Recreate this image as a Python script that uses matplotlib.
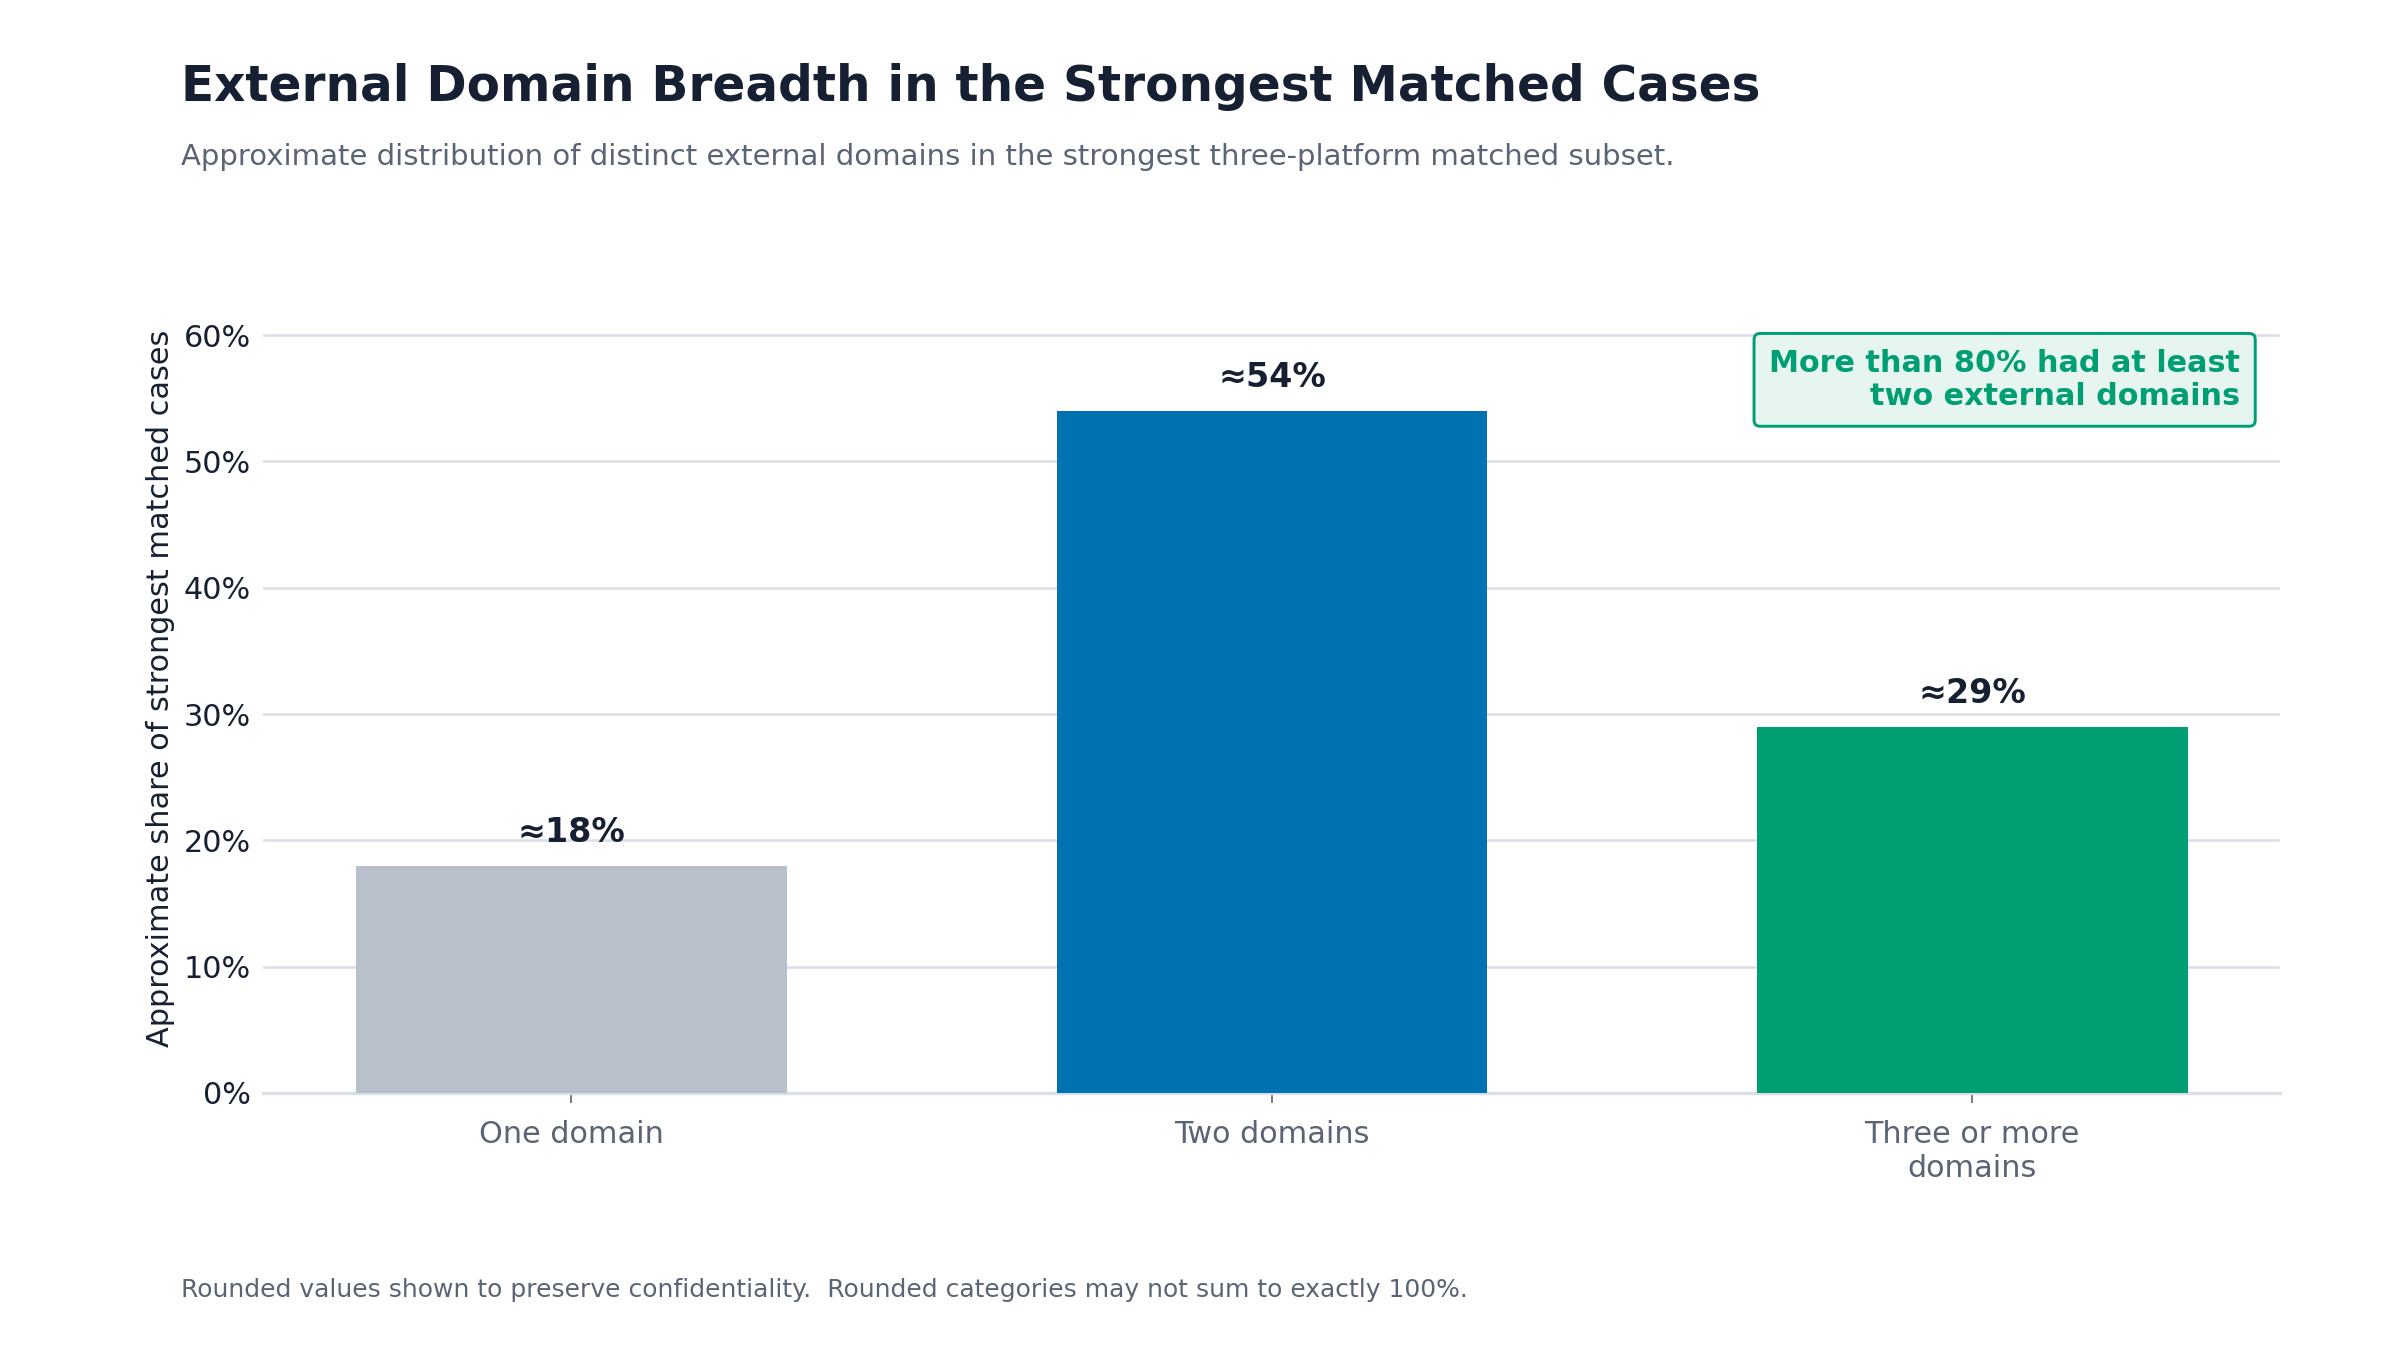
import matplotlib
matplotlib.use('Agg')
import matplotlib.pyplot as plt
from matplotlib.ticker import FuncFormatter

# --- data ---
categories = ["One domain", "Two domains", "Three or more\ndomains"]
shares = [18, 54, 29]
value_labels = ["≈18%", "≈54%", "≈29%"]
bar_colors = ["#B8C0CB", "#0072B2", "#009E73"]

TITLE = "External Domain Breadth in the Strongest Matched Cases"
SUBTITLE = "Approximate distribution of distinct external domains in the strongest three-platform matched subset."
FOOTNOTE = "Rounded values shown to preserve confidentiality.  Rounded categories may not sum to exactly 100%."
CALLOUT = "More than 80% had at least\ntwo external domains"

DARK = "#172033"
MUTED = "#5B6474"
GRID = "#D9DEE7"

plt.rcParams['font.family'] = ['DejaVu Sans']

fig = plt.figure(figsize=(16, 9), dpi=150)
# axes runs a bit above the 60% line (ylim to 64)
ax = fig.add_axes([0.1097, 0.1905, 0.8405, 0.5986])

x = range(len(categories))
ax.bar(x, shares, width=0.615, color=bar_colors, zorder=3)

for xi, val, lab in zip(x, shares, value_labels):
    ax.annotate(lab, (xi, val), xytext=(0, 8), textcoords='offset points',
                ha='center', va='bottom', fontsize=16, fontweight='bold',
                color=DARK, zorder=4)

ax.set_xlim(-0.44, 2.44)
ax.set_ylim(0, 64)
ax.set_yticks(range(0, 61, 10))
ax.yaxis.set_major_formatter(FuncFormatter(lambda v, p: f"{v:.0f}%"))
ax.set_xticks(list(x))
ax.set_xticklabels(categories)

ax.grid(axis='y', color=GRID, linewidth=1.2, zorder=0)
ax.set_axisbelow(True)
for side in ['top', 'right', 'left']:
    ax.spines[side].set_visible(False)
ax.spines['bottom'].set_color(GRID)
ax.spines['bottom'].set_linewidth(1.6)

ax.tick_params(axis='y', length=0, labelsize=14.5, labelcolor=DARK, pad=6)
ax.tick_params(axis='x', length=5, color=MUTED, labelsize=14.5, labelcolor=MUTED, pad=8)

ax.set_ylabel("Approximate share of strongest matched cases", fontsize=14.5,
              color=DARK, labelpad=4)

ax.text(0.980, 0.921, CALLOUT, transform=ax.transAxes, ha='right', va='top',
        fontsize=14.5, fontweight='bold', color="#009E73", linespacing=1.2,
        bbox=dict(boxstyle='round,pad=0.5,rounding_size=0.2',
                  facecolor="#E6F5F0", edgecolor="#009E73", linewidth=1.4),
        zorder=5)

fig.text(0.0755, 0.925, TITLE, fontsize=23.3, fontweight='bold', color=DARK,
         ha='left', va='baseline')
fig.text(0.0755, 0.878, SUBTITLE, fontsize=14, color=MUTED, ha='left', va='baseline')
fig.text(0.0755, 0.039, FOOTNOTE, fontsize=12, color=MUTED, ha='left', va='baseline')

fig.savefig("out.png", dpi=150)
